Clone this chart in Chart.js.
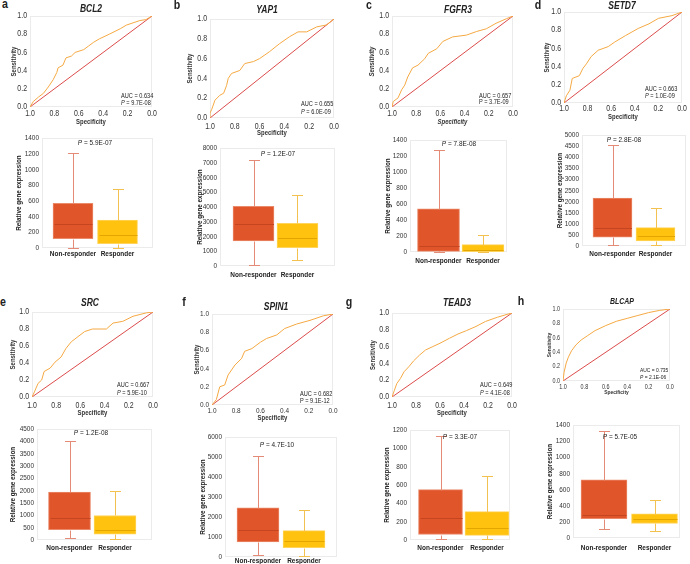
<!DOCTYPE html>
<html>
<head>
<meta charset="utf-8">
<script src="https://cdn.jsdelivr.net/npm/chart.js@4.4.0/dist/chart.umd.min.js"></script>
<style>
  body { margin: 0; width: 690px; height: 564px; position: relative; overflow: hidden; background: #fff;
         font-family: "Liberation Sans", Arial, sans-serif; color: #222; }
  canvas { position: absolute; }
  .t { position: absolute; white-space: nowrap; line-height: 1; }
</style>
</head>
<body>
<script>
// ---- data ----
const genes = ['BCL2', 'YAP1', 'FGFR3', 'SETD7', 'SRC', 'SPIN1', 'TEAD3', 'BLCAP'];
const letters = ['a', 'b', 'c', 'd', 'e', 'f', 'g', 'h'];
const aucs = ['0.634', '0.655', '0.657', '0.663', '0.667', '0.682', '0.649', '0.735'];
const rocP = ['9.7E-08', '6.0E-09', '3.7E-09', '1.0E-09', '5.9E-10', '9.1E-12', '4.1E-08', '2.1E-06'];
const boxP = ['5.9E-07', '1.2E-07', '7.8E-08', '2.8E-08', '1.2E-08', '4.7E-10', '3.3E-07', '5.7E-05'];
const groups = ['Non-responder', 'Responder'];

// ROC curves as [specificity, sensitivity]
const rocBCL2 = [[1,0],[0.973,0.06],[0.93,0.11],[0.89,0.15],[0.85,0.22],[0.81,0.30],[0.78,0.38],[0.77,0.43],[0.73,0.46],[0.705,0.54],[0.66,0.56],[0.63,0.60],[0.56,0.63],[0.52,0.67],[0.48,0.71],[0.43,0.75],[0.35,0.80],[0.26,0.86],[0.21,0.90],[0.10,0.95],[0.05,0.96],[0,1]];
const rocYAP1 = [[1,0],[1,0.05],[0.987,0.084],[0.96,0.18],[0.92,0.23],[0.89,0.25],[0.866,0.33],[0.853,0.40],[0.826,0.45],[0.76,0.48],[0.72,0.55],[0.65,0.57],[0.60,0.60],[0.52,0.67],[0.44,0.75],[0.36,0.82],[0.29,0.87],[0.22,0.87],[0.14,0.92],[0.06,0.94],[0,1]];
const rocFGFR3 = [[1,0],[0.99,0.06],[0.95,0.10],[0.92,0.19],[0.895,0.24],[0.87,0.33],[0.83,0.43],[0.785,0.46],[0.73,0.53],[0.70,0.59],[0.63,0.64],[0.58,0.72],[0.50,0.77],[0.385,0.79],[0.30,0.83],[0.22,0.86],[0.14,0.92],[0.055,0.97],[0,1]];
const rocSETD7 = [[1,0],[0.98,0.08],[0.95,0.14],[0.93,0.27],[0.87,0.30],[0.84,0.38],[0.81,0.43],[0.77,0.51],[0.71,0.58],[0.625,0.62],[0.57,0.67],[0.48,0.74],[0.37,0.82],[0.28,0.87],[0.20,0.93],[0.085,0.96],[0,1]];
const rocSRC = [[1,0],[0.98,0.06],[0.95,0.16],[0.92,0.20],[0.90,0.30],[0.85,0.34],[0.81,0.41],[0.76,0.47],[0.72,0.57],[0.675,0.65],[0.62,0.71],[0.565,0.77],[0.50,0.80],[0.385,0.80],[0.33,0.87],[0.25,0.89],[0.165,0.95],[0.055,0.99],[0,1]];
const rocSPIN1 = [[1,0],[0.964,0.06],[0.936,0.20],[0.895,0.22],[0.867,0.33],[0.81,0.44],[0.756,0.51],[0.73,0.59],[0.67,0.62],[0.60,0.69],[0.55,0.73],[0.465,0.77],[0.40,0.84],[0.30,0.89],[0.19,0.93],[0.08,0.98],[0,1]];
const rocTEAD3 = [[1,0],[0.98,0.08],[0.96,0.16],[0.93,0.22],[0.90,0.30],[0.86,0.36],[0.82,0.43],[0.77,0.50],[0.72,0.56],[0.66,0.60],[0.60,0.64],[0.52,0.70],[0.45,0.75],[0.38,0.79],[0.30,0.84],[0.22,0.90],[0.12,0.95],[0.05,0.98],[0,1]];
const rocBLCAP = [[1,0],[0.99,0.12],[0.97,0.25],[0.95,0.33],[0.92,0.42],[0.88,0.50],[0.83,0.57],[0.77,0.63],[0.70,0.70],[0.60,0.77],[0.50,0.83],[0.40,0.87],[0.30,0.91],[0.20,0.95],[0.10,0.98],[0,1]];
const rocCurves = [rocBCL2, rocYAP1, rocFGFR3, rocSETD7, rocSRC, rocSPIN1, rocTEAD3, rocBLCAP];

// box plots: [min, q1, median, q3, max] for Non-responder, Responder
const boxBCL2 = [[0, 120, 300, 570, 1210], [0, 55, 160, 355, 750]];
const boxYAP1 = [[50, 1700, 2850, 4050, 7200], [400, 1250, 1900, 2900, 4800]];
const boxFGFR3 = [[0, 8, 80, 540, 1280], [0, 5, 20, 92, 215]];
const boxSETD7 = [[30, 400, 830, 2160, 4560], [25, 230, 435, 830, 1730]];
const boxSRC = [[80, 415, 890, 1940, 4010], [40, 240, 400, 995, 2005]];
const boxSPIN1 = [[80, 750, 1360, 2460, 5030], [50, 465, 780, 1315, 2360]];
const boxTEAD3 = [[10, 60, 240, 550, 1140], [10, 50, 130, 310, 700]];
const boxBLCAP = [[110, 240, 280, 720, 1330], [90, 180, 230, 300, 470]];
const boxes = [boxBCL2, boxYAP1, boxFGFR3, boxSETD7, boxSRC, boxSPIN1, boxTEAD3, boxBLCAP];
const boxTickMax = [1400, 8000, 1400, 5000, 4500, 6000, 1200, 1400];
const boxTickStep = [200, 1000, 200, 500, 500, 1000, 200, 200];

// ---- styles / layout ----
const CURVE = '#F5A943', DIAG = '#DC4B4B', FRAME = '#ebebeb';
const FILL = ['#E0552A', '#FFC20E'], EDGE = ['#EA8A6A', '#FFD45C'];
const WHISK = ['#E38B77', '#F2C150'], MED = ['#C4451F', '#E3A500'];
const NARROW = 0.85; // the figure uses a condensed face

const rocLayout = [
  { plot: [30, 16, 152, 107], yT: 14, xTick: 114, xT: 122, title: [91, 9], letter: [5, 4], note: [121, 96, 103] },
  { plot: [210, 19, 334, 118], yT: 190, xTick: 127, xT: 133, title: [267, 10], letter: [177, 5], note: [301, 104, 112] },
  { plot: [392, 16, 513, 107], yT: 372, xTick: 114, xT: 122, title: [458, 10], letter: [369, 5], note: [479, 96, 102], italicAxis: true, plainP: true },
  { plot: [564, 12, 682, 103], yT: 547, xTick: 109, xT: 117, title: [622, 6], letter: [538, 5], note: [645, 89, 96] },
  { plot: [32, 312, 153, 397], yT: 13, xTick: 406, xT: 413, title: [90, 303], letter: [3, 302], note: [117, 385, 393] },
  { plot: [212, 314, 333, 405], yT: 197, xTick: 411, xT: 418, title: [276, 307], letter: [184, 302], note: [300, 394, 401], tick: 7.6, plainP: true },
  { plot: [392, 313, 512, 397], yT: 373, xTick: 406, xT: 413, title: [457, 303], letter: [349, 302], note: [480, 385, 393] },
  { plot: [563, 309, 670, 381], yT: 549, xTick: 387, xT: 393, title: [622, 302], letter: [521, 301], note: [640, 371, 378], tick: 6.4, axis: 5.8, tsize: 8.2, nsize: 5.8 }
];
const boxLayout = [
  { plot: [42, 138, 153, 248], c: [73, 117.5], bw: 40, yT: 19, cat: 254, p: [94.5, 142.5] },
  { plot: [220, 148, 335, 266], c: [253.5, 297.5], bw: 41, yT: 200, cat: 275, p: [277.5, 154] },
  { plot: [410, 140, 507, 252], c: [438.5, 483], bw: 42, yT: 388, cat: 261, p: [458.5, 144] },
  { plot: [582, 135, 686, 246], c: [612.5, 655.5], bw: 39, yT: 560, cat: 254, p: [624, 139.5] },
  { plot: [37, 429, 152, 540], c: [69.5, 115], bw: 42, yT: 13, cat: 548, p: [90.5, 432.5] },
  { plot: [225, 437, 337, 557], c: [258, 304], bw: 42, yT: 203, cat: 561, p: [276.5, 445] },
  { plot: [410, 430, 510, 540], c: [440.5, 487], bw: 44, yT: 387, cat: 548, p: [460, 437] },
  { plot: [573, 425, 680, 538], c: [604, 654.5], bw: 46, yT: 550, cat: 548, p: [620, 437] }
];

// draw every canvas string slightly condensed around its anchor
const fillTextOrig = CanvasRenderingContext2D.prototype.fillText;
CanvasRenderingContext2D.prototype.fillText = function (s, x, y) {
  this.save();
  this.translate(x, y);
  this.scale(NARROW, 1);
  fillTextOrig.call(this, s, 0, 0);
  this.restore();
};

Chart.defaults.font.family = '"Liberation Sans", Arial, sans-serif';
Chart.defaults.color = '#333';
Chart.defaults.animation = false;

const framePlugin = {
  id: 'frame',
  beforeDatasetsDraw(chart) {
    const { ctx, chartArea: a } = chart;
    ctx.save();
    ctx.strokeStyle = FRAME;
    ctx.lineWidth = 1;
    ctx.strokeRect(Math.round(a.left) + 0.5, Math.round(a.top) + 0.5, Math.round(a.right - a.left) - 1, Math.round(a.bottom - a.top) - 1);
    ctx.restore();
  }
};

const whiskerPlugin = {
  id: 'whiskers',
  afterDatasetsDraw(chart, args, opts) {
    const { ctx, scales: { x, y } } = chart;
    opts.boxes.forEach((b, i) => {
      const [mn, q1, md, q3, mx] = b;
      const px = Math.round(x.getPixelForValue(i + 1)) + 0.5;
      const py = v => Math.round(y.getPixelForValue(v)) + 0.5;
      ctx.save();
      ctx.lineWidth = 1;
      ctx.strokeStyle = WHISK[i];
      ctx.beginPath();
      ctx.moveTo(px, py(q3)); ctx.lineTo(px, py(mx));
      ctx.moveTo(px, py(q1)); ctx.lineTo(px, py(mn));
      [mn, mx].forEach(v => { ctx.moveTo(px - opts.cap / 2, py(v)); ctx.lineTo(px + opts.cap / 2, py(v)); });
      ctx.stroke();
      ctx.strokeStyle = MED[i];
      ctx.beginPath();
      ctx.moveTo(px - opts.bw / 2 + 1, py(md)); ctx.lineTo(px + opts.bw / 2 - 1, py(md));
      ctx.stroke();
      ctx.restore();
    });
  }
};

function makeCanvas(left, top, w, h) {
  const cv = document.createElement('canvas');
  cv.width = w; cv.height = h;
  cv.style.left = left + 'px'; cv.style.top = top + 'px';
  document.body.appendChild(cv);
  return cv;
}

function text(html, x, y, css, centered) {
  const d = document.createElement('div');
  d.className = 't';
  d.innerHTML = html;
  d.style.cssText = css + ';left:' + x + 'px;top:' + y + 'px;transform-origin:' + (centered ? '50% 50%' : '0 50%') +
    ';transform:' + (centered ? 'translate(-50%,-50%)' : 'translate(0,-50%)') + ' scaleX(' + NARROW + ')';
  document.body.appendChild(d);
}

function rocChart(k) {
  const L = rocLayout[k];
  const [pl, pt, pr, pb] = L.plot;
  const tick = L.tick || 8.2, axis = L.axis || 7;
  const lh = axis * 1.2, padTop = 8;
  const cl = Math.round(L.yT - lh / 2), ct = pt - padTop;
  const cw = pr + 10 - cl, ch = Math.round(L.xT + lh / 2) - ct;
  const axisFont = { size: axis, weight: 'bold', style: L.italicAxis ? 'italic' : 'normal' };
  const line = { showLine: true, pointRadius: 0, borderWidth: 1, tension: 0, fill: false };
  new Chart(makeCanvas(cl, ct, cw, ch), {
    type: 'scatter',
    data: {
      datasets: [
        { ...line, data: rocCurves[k].map(([s, v]) => ({ x: s, y: v })), borderColor: CURVE },
        { ...line, data: [{ x: 1, y: 0 }, { x: 0, y: 1 }], borderColor: DIAG }
      ]
    },
    options: {
      responsive: false, events: [],
      layout: { padding: { top: padTop, right: 10, left: 0, bottom: 0 } },
      plugins: { legend: { display: false }, tooltip: { enabled: false } },
      scales: {
        x: {
          type: 'linear', reverse: true, min: 0, max: 1, bounds: 'data',
          ticks: { stepSize: 0.2, font: { size: tick }, padding: L.xTick - pb - 0.6 * tick, maxRotation: 0, autoSkip: false, callback: v => v.toFixed(1) },
          grid: { display: false, drawTicks: false }, border: { display: false },
          title: { display: true, text: 'Specificity', font: axisFont, padding: 0 },
          afterFit: s => { s.height = ch - padTop - (pb - pt); }
        },
        y: {
          min: 0, max: 1, bounds: 'data',
          ticks: { stepSize: 0.2, font: { size: tick }, padding: 3, autoSkip: false, callback: v => v.toFixed(1) },
          grid: { display: false, drawTicks: false }, border: { display: false },
          title: { display: true, text: 'Sensitivity', font: axisFont, padding: 0 },
          afterFit: s => { s.width = pl - cl; }
        }
      }
    },
    plugins: [framePlugin]
  });
  const ns = L.nsize || 6.6;
  text(letters[k], L.letter[0], L.letter[1], 'font-weight:bold;font-size:12.5px', true);
  text(genes[k], L.title[0], L.title[1], 'font-weight:bold;font-style:italic;font-size:' + (L.tsize || 10) + 'px', true);
  text('AUC = ' + aucs[k], L.note[0], L.note[1], 'font-size:' + ns + 'px');
  text((L.plainP ? 'P' : '<i>P</i>') + ' = ' + rocP[k], L.note[0], L.note[2], 'font-size:' + ns + 'px');
}

function boxChart(k) {
  const L = boxLayout[k];
  const [pl, pt, pr, pb] = L.plot;
  const tick = 7.6, axis = 7.4, cat = 7.6;
  const lh = axis * 1.2, padTop = 8;
  const cl = Math.round(L.yT - lh / 2), ct = pt - padTop;
  const cw = pr + 4 - cl, ch = Math.round(L.cat + 8) - ct;
  const unit = L.c[1] - L.c[0];
  const xmin = 1 - (L.c[0] - pl) / unit, xmax = 2 + (pr - L.c[1]) / unit;
  new Chart(makeCanvas(cl, ct, cw, ch), {
    type: 'bar',
    data: {
      datasets: [{
        data: boxes[k].map((b, i) => ({ x: i + 1, y: [b[1], b[3]] })),
        backgroundColor: FILL, borderColor: EDGE, borderWidth: 1, borderSkipped: false,
        barThickness: L.bw
      }]
    },
    options: {
      responsive: false, events: [],
      layout: { padding: { top: padTop, right: 4, left: 0, bottom: 0 } },
      plugins: { legend: { display: false }, tooltip: { enabled: false }, whiskers: { boxes: boxes[k], cap: 11, bw: L.bw } },
      scales: {
        x: {
          type: 'linear', min: xmin, max: xmax, bounds: 'data', offset: false,
          afterBuildTicks: s => { s.ticks = [{ value: 1 }, { value: 2 }]; },
          ticks: { font: { size: cat, weight: 'bold' }, color: '#222', padding: L.cat - pb - 0.6 * cat, maxRotation: 0, autoSkip: false, callback: (v, i) => groups[i] },
          grid: { display: false, drawTicks: false, offset: false }, border: { display: false },
          afterFit: s => { s.height = ch - padTop - (pb - pt); }
        },
        y: {
          min: 0, max: boxTickMax[k], bounds: 'data',
          ticks: { stepSize: boxTickStep[k], font: { size: tick }, padding: 3, autoSkip: false, callback: v => String(Math.round(v)) },
          grid: { display: false, drawTicks: false }, border: { display: false },
          title: { display: true, text: 'Relative gene expression', font: { size: axis, weight: 'bold' }, color: '#222', padding: 0 },
          afterFit: s => { s.width = pl - cl; }
        }
      }
    },
    plugins: [framePlugin, whiskerPlugin]
  });
  text('<i>P</i> = ' + boxP[k], L.p[0], L.p[1], 'font-size:7.6px', true);
}

genes.forEach((g, k) => { rocChart(k); boxChart(k); });
</script>
</body>
</html>
